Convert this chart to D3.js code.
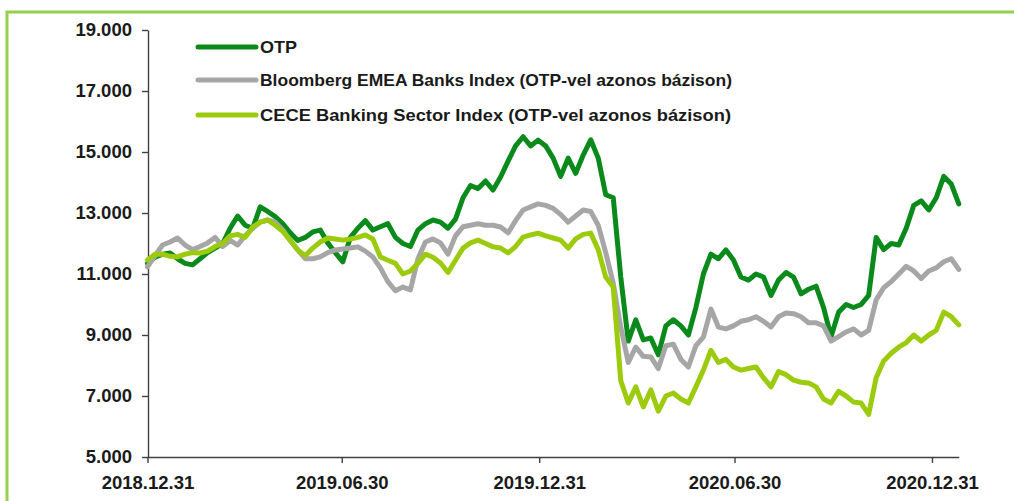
<!DOCTYPE html>
<html>
<head>
<meta charset="utf-8">
<script src="https://cdn.jsdelivr.net/npm/d3@7"></script>
<style>
  html, body { margin: 0; padding: 0; background: #ffffff; }
  svg { display: block; }
  text { font-family: "Liberation Sans", Arial, sans-serif; }
</style>
</head>
<body>
<svg id="chart" width="1014" height="501"></svg>
<script>
// ---- data (weekly observations, starting 2018-12-31) ----
const startDate = "2018-12-31";
const endDate = "2021-01-25";
const seriesNames = ["OTP", "Bloomberg EMEA Banks Index (OTP-vel azonos bázison)", "CECE Banking Sector Index (OTP-vel azonos bázison)"];

const otp = [11350,11550,11650,11690,11500,11350,11300,11500,11700,11850,
  12000,12500,12900,12600,12500,13200,13050,12880,12650,12350,
  12100,12200,12380,12440,12020,11700,11400,12200,12500,12750,
  12440,12550,12650,12200,12000,11900,12440,12650,12770,12700,
  12500,12800,13500,13900,13800,14050,13750,14180,14700,15200,
  15500,15200,15390,15200,14800,14200,14800,14300,14900,15400,
  14800,13600,13500,10900,8800,9500,8840,8900,8350,9300,
  9500,9300,9000,9900,11000,11650,11500,11790,11460,10900,
  10800,11000,10900,10300,10800,11050,10900,10350,10500,10600,
  9900,8950,9750,10000,9900,10000,10300,12200,11800,12000,
  11950,12500,13250,13400,13100,13500,14200,13950,13300];

const bloomberg = [11230,11600,11950,12050,12180,11950,11800,11900,12020,12200,
  11900,12100,11950,12250,12500,12700,12770,12700,12440,12100,
  11790,11500,11500,11560,11700,11790,11820,11850,11890,11750,
  11560,11200,10750,10450,10570,10480,11500,12050,12150,12020,
  11650,12250,12550,12600,12650,12600,12600,12540,12350,12750,
  13100,13200,13300,13250,13150,12950,12700,12900,13100,13050,
  12600,11700,10700,9260,8100,8600,8300,8280,7900,8650,
  8700,8200,7950,8650,8930,9850,9260,9200,9300,9450,
  9500,9600,9450,9260,9600,9720,9700,9600,9400,9400,
  9300,8800,8950,9100,9200,9000,9150,10150,10550,10750,
  11000,11250,11100,10850,11100,11200,11400,11500,11150];

const cece = [11460,11650,11650,11580,11560,11650,11700,11690,11750,11900,
  12000,12250,12300,12200,12540,12700,12770,12600,12400,12100,
  11790,11600,11850,12050,12180,12150,12110,12150,12200,12280,
  12150,11560,11450,11350,11000,11100,11350,11650,11550,11360,
  11050,11450,11850,12020,12110,12000,11890,11850,11690,11900,
  12210,12280,12340,12250,12180,12110,11850,12150,12300,12340,
  11800,10900,10570,7500,6770,7300,6640,7200,6500,7000,
  7100,6900,6770,7300,7850,8500,8100,8200,7950,7850,
  7900,7950,7600,7300,7800,7700,7520,7450,7430,7300,
  6900,6770,7150,7000,6800,6770,6400,7600,8150,8400,
  8600,8750,9000,8800,9000,9150,9750,9600,9330];

const yTicks = [5000, 7000, 9000, 11000, 13000, 15000, 17000, 19000];
const xTickLabels = ["2018.12.31", "2019.06.30", "2019.12.31", "2020.06.30", "2020.12.31"];
const colors = ["#0b8a1c", "#a6a6a6", "#9bcb0c"];

// ---- build ----
const parse = d3.timeParse("%Y-%m-%d");
const parseTick = d3.timeParse("%Y.%m.%d");
const t0 = parse(startDate);
const dates = otp.map((_, i) => d3.timeDay.offset(t0, 7 * i));

const svg = d3.select("#chart");

// frame
svg.append("path")
  .attr("d", "M7,501 V12 H1014")
  .attr("fill", "none")
  .attr("stroke", "#92d050")
  .attr("stroke-width", 3);

const x = d3.scaleTime()
  .domain([t0, parse(endDate)])
  .range([147.5, 958.8]);
const y = d3.scaleLinear()
  .domain([5000, 19000])
  .range([457, 30]);

const loc = d3.formatLocale({ decimal: ",", thousands: ".", grouping: [3], currency: ["", ""] });
const fmt = loc.format(",.0f");

const axisColor = "#404040";

const yAxis = svg.append("g")
  .attr("transform", "translate(148,0)")
  .call(d3.axisLeft(y).tickValues(yTicks).tickFormat(fmt).tickSize(6).tickSizeOuter(0).tickPadding(10));
yAxis.select(".domain").attr("stroke", axisColor).attr("stroke-width", 1.4);
yAxis.selectAll(".tick line").attr("stroke", axisColor).attr("stroke-width", 1.4);
yAxis.selectAll(".tick text")
  .attr("fill", "#1a1a1a")
  .style("font-size", "18.5px")
  .style("font-weight", "bold")
  .style("font-family", "'Liberation Sans', Arial, sans-serif");

const xAxis = svg.append("g")
  .attr("transform", "translate(0,457)")
  .call(d3.axisBottom(x)
    .tickValues(xTickLabels.map(s => parseTick(s)))
    .tickFormat(d3.timeFormat("%Y.%m.%d"))
    .tickSize(6).tickSizeOuter(0).tickPadding(13));
xAxis.select(".domain").attr("stroke", axisColor).attr("stroke-width", 1.4);
xAxis.selectAll(".tick line").attr("stroke", axisColor).attr("stroke-width", 1.4);
xAxis.selectAll(".tick text")
  .attr("fill", "#1a1a1a")
  .style("font-size", "18.5px")
  .style("font-weight", "bold")
  .style("font-family", "'Liberation Sans', Arial, sans-serif");

// lines
const line = d3.line()
  .x((d, i) => x(dates[i]))
  .y(d => y(d));

const allSeries = [otp, bloomberg, cece];
svg.append("g").selectAll("path")
  .data(allSeries)
  .join("path")
  .attr("d", d => line(d))
  .attr("fill", "none")
  .attr("stroke", (d, i) => colors[i])
  .attr("stroke-width", 5)
  .attr("stroke-linejoin", "round")
  .attr("stroke-linecap", "round");

// legend
const legendY = [47, 80, 115];
const legendW = [37, 472, 471];
const legend = svg.append("g");
seriesNames.forEach((name, i) => {
  legend.append("line")
    .attr("x1", 198).attr("x2", 256)
    .attr("y1", legendY[i]).attr("y2", legendY[i])
    .attr("stroke", colors[i])
    .attr("stroke-width", 5)
    .attr("stroke-linecap", "round");
  legend.append("text")
    .attr("x", 260)
    .attr("y", legendY[i] + 6)
    .attr("fill", "#1a1a1a")
    .attr("textLength", legendW[i])
    .attr("lengthAdjust", "spacingAndGlyphs")
    .style("font-size", "17px")
    .style("font-weight", "bold")
    .text(name);
});
</script>
</body>
</html>
